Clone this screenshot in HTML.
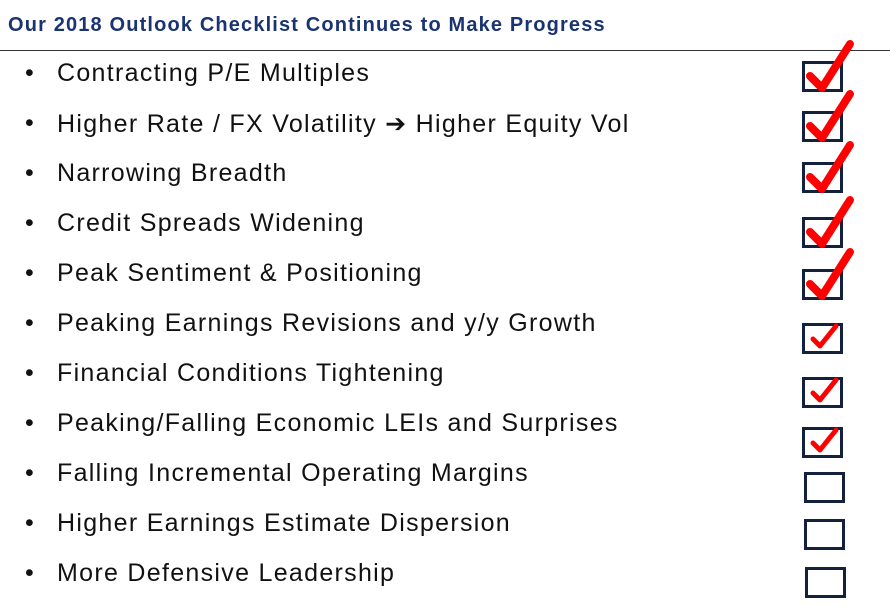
<!DOCTYPE html>
<html><head><meta charset="utf-8"><style>
body{margin:0;width:890px;height:612px;background:#fff;overflow:hidden;position:relative;font-family:"Liberation Sans",Arial,sans-serif}
.title{position:absolute;left:8px;top:14px;font-size:20px;font-weight:bold;color:#1a3473;white-space:nowrap;letter-spacing:1.15px}
.rule{position:absolute;left:0;top:50px;width:890px;height:1px;background:#333}
.item{position:absolute;left:0;height:30px;font-size:25px;color:#111;white-space:nowrap;letter-spacing:1.3px}
.item .b{position:absolute;left:25px;letter-spacing:0}
.item .t{position:absolute;left:57px}
svg{position:absolute;left:0;top:0}
</style></head><body>
<div class="title">Our 2018 Outlook Checklist Continues to Make Progress</div>
<div class="rule"></div>
<div id="list"></div>
<svg id="boxes" width="890" height="612"></svg>
<script>
const items=["Contracting P/E Multiples","Higher Rate / FX Volatility \u2794 Higher Equity Vol","Narrowing Breadth","Credit Spreads Widening","Peak Sentiment & Positioning","Peaking Earnings Revisions and y/y Growth","Financial Conditions Tightening","Peaking/Falling Economic LEIs and Surprises","Falling Incremental Operating Margins","Higher Earnings Estimate Dispersion","More Defensive Leadership"];
const checks=[2,2,2,2,2,1,1,1,0,0,0];
const boxY=[61,111,162,217,269,323,377,427,472,519,567];
const boxX=[802,802,802,802,802,802,802,802,804,804,805];
const list=document.getElementById('list');
const svg=document.getElementById('boxes');
const NS='http://www.w3.org/2000/svg';
items.forEach((s,i)=>{
  const d=document.createElement('div');d.className='item';d.style.top=(59+i*50)+'px';
  
  
  d.innerHTML='<span class="b">\u2022</span><span class="t"></span>';
  d.querySelector('.t').textContent=s;
  list.appendChild(d);
  const x=boxX[i],y=boxY[i];
  const r=document.createElementNS(NS,'rect');
  r.setAttribute('x',x+1.5);r.setAttribute('y',y+1.5);r.setAttribute('width',38);r.setAttribute('height',28);
  r.setAttribute('fill','none');r.setAttribute('stroke','#13213f');r.setAttribute('stroke-width','3');
  
  
  svg.appendChild(r);
  if(checks[i]===2){
    const p=document.createElementNS(NS,'path');
    p.setAttribute('d',`M${x+8} ${y+15} L${x+20} ${y+27} L${x+48} ${y-17}`);
    p.setAttribute('fill','none');p.setAttribute('stroke','#f00');p.setAttribute('stroke-width','8');p.setAttribute('stroke-linecap','round');p.setAttribute('stroke-linejoin','round');
    
    
    svg.appendChild(p);
  } else if(checks[i]===1){
    const p=document.createElementNS(NS,'path');
    p.setAttribute('d',`M${x+11} ${y+16} L${x+18} ${y+23} L${x+34} ${y+3}`);
    p.setAttribute('fill','none');p.setAttribute('stroke','#f00');p.setAttribute('stroke-width','5');p.setAttribute('stroke-linecap','round');p.setAttribute('stroke-linejoin','round');
    
    
    svg.appendChild(p);
  }
});
</script>
</body></html>
